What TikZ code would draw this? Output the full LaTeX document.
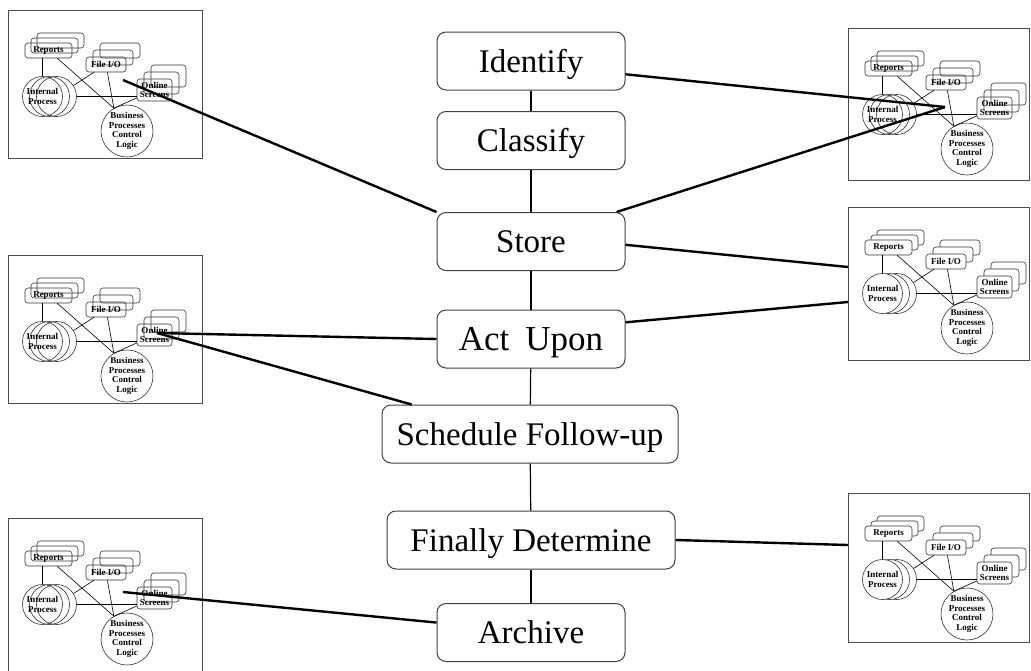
\documentclass[tikz,border=0pt]{standalone}
\usepackage{fontspec}
\setmainfont{Liberation Serif}

\tikzset{
  layer/.style={draw=black!80, line width=0.6pt, rounded corners=3pt, inner sep=0pt,
    align=center, font=\fontsize{9}{9.5}\selectfont\bfseries},
  disc/.style={draw=black!80, line width=0.6pt, circle, inner sep=0pt,
    align=center, font=\fontsize{9}{9.5}\selectfont\bfseries},
  mapline/.style={line width=0.6pt},
  pics/minimap/.style={code={
    % reports
    \node[layer, fill=#1, minimum width=47pt, minimum height=15pt] (-rep3) at (52.5,30.5) {};
    \node[layer, fill=#1, minimum width=47pt, minimum height=15pt] (-rep2) at (46.5,35.5) {};
    \node[layer, fill=#1, minimum width=47pt, minimum height=15pt] (-rep) at (40.5,40.5) {Reports};
    % file i/o
    \node[layer, fill=#1, minimum width=40pt, minimum height=15pt] (-fio3) at (112,40.5) {};
    \node[layer, fill=#1, minimum width=40pt, minimum height=15pt] (-fio2) at (105,47.5) {};
    \node[layer, fill=#1, minimum width=40pt, minimum height=15pt] (-fio) at (98,54.5) {File I/O};
    % online screens
    \node[layer, fill=#1, minimum width=35pt, minimum height=22pt] (-os3) at (160.5,66) {};
    \node[layer, fill=#1, minimum width=35pt, minimum height=22pt] (-os2) at (153.5,73) {};
    \node[layer, fill=#1, minimum width=35pt, minimum height=22pt] (-os) at (146.5,80) {Online\\Screens};
    % internal process
    \node[disc, fill=#1, minimum size=40pt] (-ip3) at (48.5,86.5) {};
    \node[disc, fill=#1, minimum size=40pt] (-ip2) at (41.5,86.5) {};
    \node[disc, fill=#1, minimum size=40pt] (-ip) at (34.5,86.5) {Internal\\Process};
    % business logic
    \node[disc, fill=#1, minimum size=52pt] (-bp) at (119,121) {Business\\Processes\\Control\\Logic};

    \draw[mapline] (-rep.south -| -ip.north) -- (-ip.north);
    \draw[mapline] (-rep) -- (-bp.120);
    \draw[mapline] (-fio) -- (-ip3);
    \draw[mapline] (-fio) -- (-bp.120);
    \draw[mapline] (-ip3.east) -- (-ip3.east -| -os.west);
    \draw[mapline] (-os) -- (-bp.120);
  }}
}

\begin{document}
\begin{tikzpicture}[x=1pt,y=-1pt,
    task/.style={draw=black!75, line width=1pt, rounded corners=9pt,
      minimum width=188pt, minimum height=58pt, inner sep=0pt,
      text height=22pt, text depth=0pt, font=\fontsize{33}{36}\selectfont},
    link/.style={line width=1.2pt},
    feed/.style={line width=2.4pt},
    frame/.style={draw=black!70, line width=0.9pt}]
  \useasboundingbox (0,0) rectangle (1031,670);

  % process chain
  \node[task] (identify) at (531,61) {Identify};
  \node[task] (classify) at (531,140.5) {Classify};
  \node[task] (store) at (531,241.5) {Store};
  \node[task, font=\fontsize{35}{38}\selectfont] (actupon) at (531,339) {Act\hspace{16pt}Upon};
  \node[task, minimum width=296pt] (schedule) at (530,434) {Schedule Follow-up};
  \node[task, minimum width=288pt] (finally) at (531,540) {Finally Determine};
  \node[task] (archive) at (531,632.5) {Archive};

  \draw[link] (identify) -- (classify);
  \draw[link] (classify) -- (store);
  \draw[link] (store) -- (actupon);
  \draw[link] (actupon) -- (schedule);
  \draw[link] (schedule) -- (finally);
  \draw[link] (finally) -- (archive);

  % system sketches
  \draw[frame] (8,10) rectangle (202,158);
  \draw[frame] (8,255) rectangle (202,403);
  \draw[frame] (8,518) rectangle (202,700);
  \draw[frame] (848,28) rectangle (1029,180);
  \draw[frame] (848,207) rectangle (1029,360);
  \draw[frame] (848,493) rectangle (1029,642);

  \pic (left1) at (8,10) {minimap=none};
  \pic (left2) at (8,255) {minimap=none};
  \pic (left3) at (8,518) {minimap=none};
  \pic (right1) at (848,28) {minimap=none};
  \pic (right2) at (848,207) {minimap=white};
  \pic (right3) at (848,493) {minimap=white};

  \coordinate (lhub1) at (123,80);
  \coordinate (rhub1) at (945,107);
  \coordinate (lhub2) at (157,333);
  \coordinate (rport2a) at (848,267);
  \coordinate (rport2b) at (848,302);
  \coordinate (lhub3) at (123,592);
  \coordinate (rport3) at (848,545);

  \draw[feed] (identify.-8) -- (rhub1);
  \draw[feed] (store.19) -- (rhub1);
  \draw[feed] (store.north west) -- (lhub1);
  \draw[feed] (store.-2) -- (rport2a);
  \draw[feed] (actupon.10) -- (rport2b);
  \draw[feed] (actupon.west) -- (lhub2);
  \draw[feed] (schedule.166) -- (lhub2);
  \draw[feed] (finally.east) -- (rport3);
  \draw[feed] (archive.174) -- (lhub3);
\end{tikzpicture}
\end{document}
